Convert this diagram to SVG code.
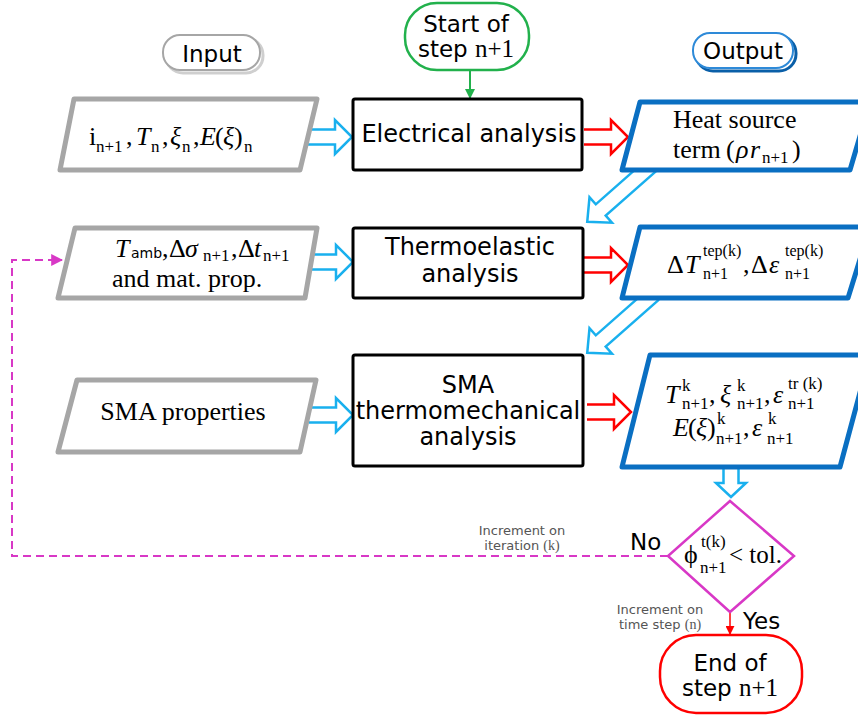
<svg xmlns="http://www.w3.org/2000/svg" width="858" height="717" viewBox="0 0 858 717">
  <style>
    .sans { font-family: "DejaVu Sans", "Liberation Sans", sans-serif; fill: #000; }
    .lbl { font-size: 23px; text-anchor: middle; }
    .big { font-size: 24px; }
    .note { font-family: "DejaVu Sans", sans-serif; font-size: 13px; fill: #555; text-anchor: middle; }
    .m { font-family: "Liberation Serif", "DejaVu Serif", serif; font-size: 26px; fill: #000; }
    .s { font-size: 17px; }
    .it { font-style: italic; }
    .box { fill: #fff; stroke: #000; stroke-width: 3; }
    .pin { fill: #fff; stroke: #a6a6a6; stroke-width: 5; stroke-linejoin: round; }
    .pout { fill: #fff; stroke: #0a6fc2; stroke-width: 5; stroke-linejoin: round; }
    .hb { fill: #fff; stroke: #19b0ee; stroke-width: 2.5; }
    .hr { fill: #fff; stroke: #ff0000; stroke-width: 2.5; }
  </style>
  <defs>
    <!-- hollow block arrow, tail at x=0, tip at x=44 -->
    <path id="blk" d="M0,-7.5 H27 V-17 L44,0 L27,17 V7.5 H0"/>
    <!-- longer hollow arrow for the diagonal feeds, tip at x=89 -->
    <path id="blk-long" d="M0,-7.5 H71 V-17 L89,0 L71,17 V7.5 H0"/>
    <!-- short hollow arrow, tip at x=34 -->
    <path id="blk-short" d="M0,-7.5 H20 V-15 L34,0 L20,15 V7.5 H0"/>
    <marker id="mg" viewBox="0 0 10 10" refX="9" refY="5" markerWidth="10" markerHeight="10" markerUnits="userSpaceOnUse" orient="auto">
      <path d="M0,0 L10,5 L0,10 Z" fill="#22b14c"/>
    </marker>
    <marker id="mr" viewBox="0 0 10 10" refX="9" refY="5" markerWidth="9" markerHeight="9" markerUnits="userSpaceOnUse" orient="auto">
      <path d="M0,0 L10,5 L0,10 Z" fill="#ff0000"/>
    </marker>
    <marker id="mm" viewBox="0 0 10 10" refX="9" refY="5" markerWidth="12" markerHeight="12" markerUnits="userSpaceOnUse" orient="auto">
      <path d="M0,0 L10,5 L0,10 Z" fill="#d838c6"/>
    </marker>
  </defs>

  <!-- connectors -->
  <g id="connectors">
    <!-- inputs to analyses -->
    <use href="#blk" class="hb" transform="translate(308,137)"/>
    <use href="#blk" class="hb" transform="translate(309,262)"/>
    <use href="#blk" class="hb" transform="translate(309,415)"/>
    <!-- analyses to outputs -->
    <use href="#blk" class="hr" transform="translate(584,137)"/>
    <use href="#blk" class="hr" transform="translate(584,265)"/>
    <use href="#blk" class="hr" transform="translate(587,412)"/>
    <!-- outputs fed down to the next analysis -->
    <use href="#blk-long" class="hb" transform="translate(654,163) rotate(138.6)"/>
    <use href="#blk-long" class="hb" transform="translate(654,294) rotate(138.6)"/>
    <!-- output to convergence check -->
    <use href="#blk-short" class="hb" transform="translate(731,463) rotate(90)"/>
    <!-- start to electrical -->
    <line x1="470" y1="70" x2="470" y2="98" stroke="#22b14c" stroke-width="2" marker-end="url(#mg)"/>
    <!-- yes branch -->
    <line x1="730" y1="612" x2="730" y2="634" stroke="#ff0000" stroke-width="1.5" marker-end="url(#mr)"/>
    <!-- no branch: iterate -->
    <path d="M668,556 H12 V260 H62" fill="none" stroke="#d838c6" stroke-width="2" stroke-dasharray="8,5" marker-end="url(#mm)"/>
    <text class="note" x="522" y="535">Increment on</text>
    <text class="note" x="522" y="550">iteration <tspan font-family="Liberation Serif, serif" font-size="14">(k)</tspan></text>
    <text class="note" x="660" y="614">Increment on</text>
    <text class="note" x="660" y="629">time step <tspan font-family="Liberation Serif, serif" font-size="14">(n)</tspan></text>
    <text class="sans" x="630" y="550" font-size="23">No</text>
    <text class="sans" x="743" y="629" font-size="23">Yes</text>
  </g>

  <!-- column headers -->
  <g id="input-header">
    <rect x="166" y="38" width="97" height="35" rx="17" fill="none" stroke="#cfcfcf" stroke-width="3"/>
    <rect x="163" y="35" width="97" height="35" rx="17" fill="#fff" stroke="#a6a6a6" stroke-width="2"/>
    <text class="sans lbl" x="212" y="62">Input</text>
  </g>
  <g id="output-header">
    <rect x="696" y="36" width="100" height="35" rx="17" fill="none" stroke="#0a5fa8" stroke-width="3"/>
    <rect x="693" y="33" width="100" height="35" rx="17" fill="#fff" stroke="#2e8ad8" stroke-width="2"/>
    <text class="sans lbl" x="743" y="59">Output</text>
  </g>

  <g id="start">
    <rect x="405" y="3" width="124" height="67" rx="32" fill="#fff" stroke="#22b14c" stroke-width="2.5"/>
    <text class="sans lbl" x="466" y="32">Start of</text>
    <text class="sans lbl" x="466" y="57">step <tspan font-family="Liberation Serif, serif" font-size="25">n+1</tspan></text>
  </g>

  <!-- inputs -->
  <g id="in-electrical">
    <polygon class="pin" points="74,99 317,99 300,170 60,170"/>
    <text class="m" font-size="25"><tspan x="89" y="145">i</tspan><tspan class="s" x="96" y="152">n+1</tspan><tspan x="126" y="145">,</tspan><tspan class="it" x="136" y="145">T</tspan><tspan class="s" x="151" y="152">n</tspan><tspan x="162" y="145">,</tspan><tspan class="it" x="170" y="145">ξ</tspan><tspan class="s" x="182" y="152">n</tspan><tspan x="193" y="145">,</tspan><tspan class="it" x="200" y="145">E</tspan><tspan x="215" y="145">(</tspan><tspan class="it" x="223" y="145">ξ</tspan><tspan x="234" y="145">)</tspan><tspan class="s" x="244" y="152">n</tspan></text>
  </g>
  <g id="in-thermoelastic">
    <polygon class="pin" points="75,228 317,228 305,298 58,298"/>
    <text class="m" font-size="24"><tspan class="it" x="115" y="257">T</tspan><tspan font-family="DejaVu Sans, sans-serif" font-size="14" x="131" y="258">amb</tspan><tspan x="162" y="257">,</tspan><tspan x="169" y="257">Δ</tspan><tspan class="it" x="185" y="257">σ</tspan><tspan class="s" x="203" y="261">n+1</tspan><tspan x="231" y="257">,</tspan><tspan x="238" y="257">Δ</tspan><tspan class="it" x="254" y="257">t</tspan><tspan class="s" x="263" y="261">n+1</tspan></text>
    <text class="m" x="112" y="287" font-size="25">and mat. prop.</text>
  </g>
  <g id="in-sma">
    <polygon class="pin" points="77,380 316,380 300,452 58,452"/>
    <text class="m" x="183" y="420" font-size="25" text-anchor="middle">SMA properties</text>
  </g>

  <!-- analyses -->
  <g id="electrical">
    <rect class="box" x="353" y="99" width="229" height="71" rx="2"/>
    <text class="sans lbl big" x="469" y="142">Electrical analysis</text>
  </g>
  <g id="thermoelastic">
    <rect class="box" x="353" y="228" width="230" height="70" rx="2"/>
    <text class="sans lbl big" x="470" y="255">Thermoelastic</text>
    <text class="sans lbl big" x="470" y="282">analysis</text>
  </g>
  <g id="sma">
    <rect class="box" x="353" y="355" width="230" height="111" rx="2"/>
    <text class="sans lbl big" x="468" y="393">SMA</text>
    <text class="sans lbl big" x="468" y="419">thermomechanical</text>
    <text class="sans lbl big" x="468" y="445">analysis</text>
  </g>

  <!-- outputs -->
  <g id="out-heat">
    <polygon class="pout" points="640,102 870,102 850,170 622,170"/>
    <text class="m" x="673" y="128" font-size="27">Heat source</text>
    <text class="m" font-size="27"><tspan x="673" y="158">term</tspan><tspan x="726" y="158">(</tspan><tspan class="it" x="736" y="158">ρ</tspan><tspan class="it" x="750" y="158">r</tspan><tspan class="s" x="762" y="163">n+1</tspan><tspan x="792" y="158">)</tspan></text>
  </g>
  <g id="out-thermoelastic">
    <polygon class="pout" points="640,227 870,227 848,298 622,298"/>
    <text class="m"><tspan x="667" y="273">Δ</tspan><tspan class="it" x="685" y="273">T</tspan><tspan font-size="16" x="703" y="256">tep(k)</tspan><tspan font-size="16" x="703" y="279">n+1</tspan><tspan x="743" y="273">,</tspan><tspan x="751" y="273">Δ</tspan><tspan class="it" x="769" y="273">ε</tspan><tspan font-size="16" x="785" y="256">tep(k)</tspan><tspan font-size="16" x="785" y="279">n+1</tspan></text>
  </g>
  <g id="out-sma">
    <polygon class="pout" points="650,355 870,355 840,467 622,467"/>
    <text class="m" font-size="25"><tspan class="it" x="665" y="403">T</tspan><tspan class="s" x="682" y="391">k</tspan><tspan class="s" x="682" y="409">n+1</tspan><tspan x="709" y="403">,</tspan><tspan class="it" x="720" y="403">ξ</tspan><tspan class="s" x="737" y="391">k</tspan><tspan class="s" x="737" y="409">n+1</tspan><tspan x="764" y="403">,</tspan><tspan class="it" x="773" y="403">ε</tspan><tspan class="s" x="788" y="389">tr (k)</tspan><tspan class="s" x="788" y="409">n+1</tspan></text>
    <text class="m" font-size="25"><tspan class="it" x="673" y="436">E</tspan><tspan x="688" y="436">(</tspan><tspan class="it" x="696" y="436">ξ</tspan><tspan x="707" y="436">)</tspan><tspan class="s" x="717" y="424">k</tspan><tspan class="s" x="716" y="444">n+1</tspan><tspan x="743" y="436">,</tspan><tspan class="it" x="752" y="436">ε</tspan><tspan class="s" x="768" y="424">k</tspan><tspan class="s" x="767" y="444">n+1</tspan></text>
  </g>

  <!-- convergence check -->
  <g id="check">
    <polygon points="730,501 794,556 730,612 668,556" fill="#fff" stroke="#d838c6" stroke-width="2.5"/>
    <text class="m"><tspan x="684" y="563">ϕ</tspan><tspan class="s" x="701" y="547">t(k)</tspan><tspan class="s" x="700" y="573">n+1</tspan><tspan x="729" y="563" font-size="25">&lt; tol.</tspan></text>
  </g>

  <g id="end">
    <rect x="660" y="635" width="142" height="78" rx="36" fill="#fff" stroke="#ff0000" stroke-width="2.5"/>
    <text class="sans lbl" x="730" y="671">End of</text>
    <text class="sans lbl" x="730" y="696">step <tspan font-family="Liberation Serif, serif" font-size="25">n+1</tspan></text>
  </g>
</svg>
